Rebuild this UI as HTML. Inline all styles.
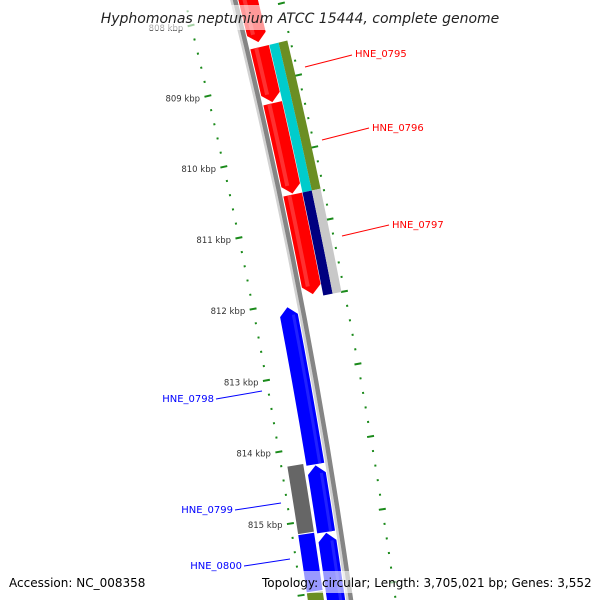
<!DOCTYPE html>
<html><head><meta charset="utf-8"><style>
html,body{margin:0;padding:0;background:#fff;width:600px;height:600px;overflow:hidden;}
svg{display:block;font-family:"DejaVu Sans","Liberation Sans",sans-serif;overflow:hidden;}
</style></head><body>
<svg id="map" width="600" height="600" viewBox="0 0 600 600" xmlns="http://www.w3.org/2000/svg">
<g id="rings"></g>
<g id="feats"></g>
<g id="labels"></g>
<rect x="100" y="5" width="400" height="25" fill="#fff" fill-opacity="0.6"/>
<text x="300" y="23" text-anchor="middle" font-size="14" font-style="italic" fill="#222">Hyphomonas neptunium ATCC 15444, complete genome</text>
<rect x="258" y="571" width="336" height="22" fill="#fff" fill-opacity="0.6"/>
<text x="9" y="587" font-size="12" fill="#000">Accession: NC_008358</text>
<text x="262" y="587" font-size="12" fill="#000">Topology: circular; Length: 3,705,021 bp; Genes: 3,552</text>
</svg>
<script>
// --- data ---
const majorTicksKbp = [807, 808, 809, 810, 811, 812, 813, 814, 815, 816, 817];
const labelKbp = [808, 809, 810, 811, 812, 813, 814, 815];
const minorStepBp = 200;
// forward (outer) genes - arrows
const fwdStart = [807400, 808510, 809295, 810570];
const fwdEnd   = [808440, 809280, 810555, 811955];
// reverse (inner) genes - arrows
const revStart = [812065, 814265, 815200];
const revEnd   = [814250, 815190, 816600];
// category bars: outer tracks
const catOuter1Start = [808510, 810570];
const catOuter1End   = [810570, 812000];
const catOuter1Color = ["#00cccc", "#000080"];
const catOuter2Start = [808510, 810570];
const catOuter2End   = [810570, 812000];
const catOuter2Color = ["#6b8e23", "#c8c8c8"];
// category bars: inner track
const catInnerStart = [814220, 815175, 815985];
const catInnerEnd   = [815160, 815970, 817000];
const catInnerColor = ["#666666", "#0000ff", "#6b8e23"];
// gene labels
const geneNames = ["HNE_0795","HNE_0796","HNE_0797","HNE_0798","HNE_0799","HNE_0800"];

// --- geometry ---
const NS="http://www.w3.org/2000/svg";
const CX=-5539, CY=1427, R0=5947;
const A0=-13.04, DEG_PER_BP=0.000705, BP0=809000;
function ang(bp){return (A0+(bp-BP0)*DEG_PER_BP)*Math.PI/180;}
function pt(bp,r){const a=ang(bp);return [CX+r*Math.cos(a), CY+r*Math.sin(a)];}
function f(p){return p[0].toFixed(2)+" "+p[1].toFixed(2);}
function band(a,b,r1,r2){
  return "M"+f(pt(a,r2))+" A"+r2+" "+r2+" 0 0 1 "+f(pt(b,r2))+" L"+f(pt(b,r1))+" A"+r1+" "+r1+" 0 0 0 "+f(pt(a,r1))+" Z";
}
function fwdArrow(a,b,r1,r2,h){
  const m=(r1+r2)/2;
  return "M"+f(pt(a,r2))+" A"+r2+" "+r2+" 0 0 1 "+f(pt(b-h,r2))+" L"+f(pt(b,m))+" L"+f(pt(b-h,r1))+" A"+r1+" "+r1+" 0 0 0 "+f(pt(a,r1))+" Z";
}
function revArrow(a,b,r1,r2,h){
  const m=(r1+r2)/2;
  return "M"+f(pt(a,m))+" L"+f(pt(a+h,r2))+" A"+r2+" "+r2+" 0 0 1 "+f(pt(b,r2))+" L"+f(pt(b,r1))+" A"+r1+" "+r1+" 0 0 0 "+f(pt(a+h,r1))+" L"+f(pt(a,m))+" Z";
}
function mk(parent,tag,attrs){const e=document.createElementNS(NS,tag);for(const k in attrs)e.setAttribute(k,attrs[k]);parent.appendChild(e);return e;}

const rings=document.getElementById('rings');
const feats=document.getElementById('feats');
const labels=document.getElementById('labels');
const GREEN="#1a8a1a";
const RL=5899, RR=5992;

// backbone
let bb;
bb=mk(feats,'path',{d:band(807000,817500,5943,5945.5),fill:"#d2d2d2"});


bb=mk(feats,'path',{d:band(807000,817500,5945.5,5950),fill:"#858585"});



// ticks
for(let bp=807000; bp<=817400; bp+=minorStepBp){
  const major = majorTicksKbp.includes(bp/1000);
  [RL,RR].forEach(function(r){
    const p1=pt(bp, major? r-3.5 : r-1), p2=pt(bp, major? r+3.5 : r+1);
    const t=mk(rings,'line',{x1:p1[0],y1:p1[1],x2:p2[0],y2:p2[1],stroke:GREEN,"stroke-width":2});
    
    
  });
}
labelKbp.forEach(function(k){
  const p=pt(k*1000, RL-8);
  const t=mk(rings,'text',{x:p[0],y:p[1]+3.5,"text-anchor":"end","font-size":"8.5",fill:"#333"});
  t.textContent=k+" kbp";
  
  
});

// forward genes (red)
const H=115;
fwdStart.forEach(function(s,i){
  const e=mk(feats,'path',{d:fwdArrow(s,fwdEnd[i],5951,5970,H),fill:"#ff0000"});
  
  
  const hl=mk(feats,'path',{d:band(s,fwdEnd[i]-H,5955,5959),fill:"#ff3030"});
  
  
});
// reverse genes (blue)
revStart.forEach(function(s,i){
  const e=mk(feats,'path',{d:revArrow(s,revEnd[i],5924,5942,H),fill:"#0000ff"});
  
  
  const hl=mk(feats,'path',{d:band(s+H,revEnd[i],5936,5939),fill:"#2020ff"});
  
  
});
// category tracks
catOuter1Start.forEach(function(s,i){
  const e=mk(feats,'path',{d:band(s,catOuter1End[i],5970.5,5980),fill:catOuter1Color[i]});
  
  
});
catOuter2Start.forEach(function(s,i){
  const e=mk(feats,'path',{d:band(s,catOuter2End[i],5980,5989),fill:catOuter2Color[i]});
  
  
});
catInnerStart.forEach(function(s,i){
  const e=mk(feats,'path',{d:band(s,catInnerEnd[i],5905,5921),fill:catInnerColor[i]});
  
  
});

// gene labels (positions as placed by layout)
const lab=[
 [355,57,"start",305,67,352,55,"#ff0000"],
 [372,131,"start",322,140,369,128,"#ff0000"],
 [392,228,"start",342,236,389,225,"#ff0000"],
 [214,402,"end",262,391,216,399,"#0000ff"],
 [233,513,"end",281,503,235,510,"#0000ff"],
 [242,569,"end",290,559,244,566,"#0000ff"]
];
geneNames.forEach(function(n,i){
  const L=lab[i];
  const ln=mk(labels,'line',{x1:L[3],y1:L[4],x2:L[5],y2:L[6],stroke:L[7],"stroke-width":1});
  
  
  const t=mk(labels,'text',{x:L[0],y:L[1],"text-anchor":L[2],"font-size":"10",fill:L[7]});
  t.textContent=n;
  
  
});
</script>
</body></html>
